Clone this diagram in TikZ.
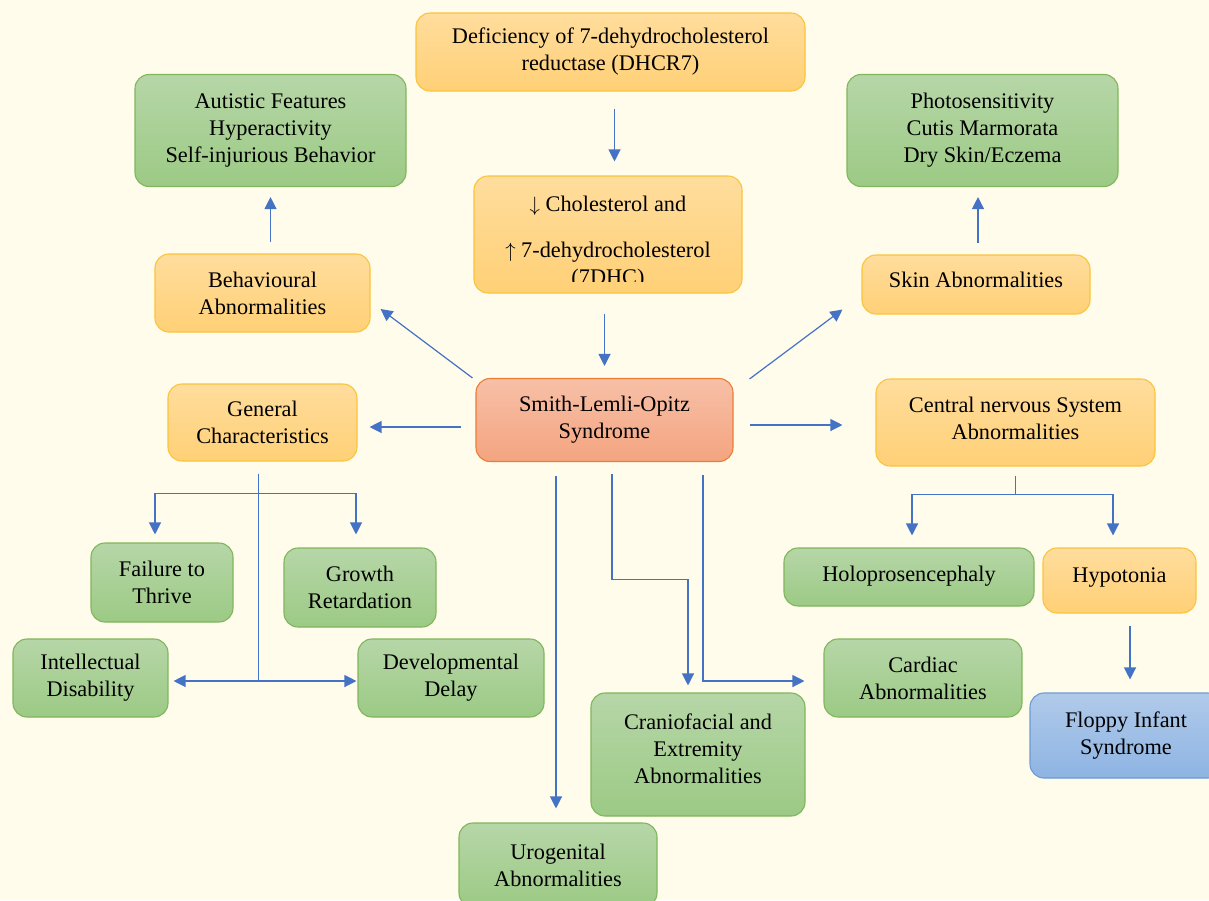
\documentclass[tikz,border=0pt]{standalone}
\usepackage{fontspec}
\setmainfont{Liberation Serif}
\usetikzlibrary{calc,arrows.meta}

\definecolor{bg}{RGB}{255,252,235}
\definecolor{grnT}{RGB}{182,214,167}
\definecolor{grnB}{RGB}{156,202,133}
\definecolor{grnD}{RGB}{128,182,92}
\definecolor{orgT}{RGB}{255,221,157}
\definecolor{orgB}{RGB}{255,208,118}
\definecolor{orgD}{RGB}{250,196,60}
\definecolor{salT}{RGB}{247,192,167}
\definecolor{salB}{RGB}{244,164,128}
\definecolor{salD}{RGB}{236,125,52}
\definecolor{bluT}{RGB}{176,202,234}
\definecolor{bluB}{RGB}{142,180,227}
\definecolor{bluD}{RGB}{108,155,212}
\definecolor{arrc}{RGB}{68,114,196}

\begin{document}
\begin{tikzpicture}[x=1pt,y=-1pt,
  box/.style={rounded corners=14pt, line width=1.1pt, inner sep=0pt,
    align=center, font=\fontsize{22.3}{27}\selectfont},
  gbox/.style={box, draw=grnD, top color=grnT, bottom color=grnB},
  obox/.style={box, draw=orgD, top color=orgT, bottom color=orgB},
  rbox/.style={box, draw=salD, top color=salT, bottom color=salB},
  bbox/.style={box, draw=bluD, top color=bluT, bottom color=bluB},
  sz/.style n args={2}{minimum width=#1pt, minimum height=#2pt},
  ln/.style={draw=arrc, line width=1.2pt},
  arr/.style={ln, -{Triangle[length=12pt,width=12pt]}},
  lbl/.style={inner sep=0pt, align=center, font=\fontsize{22.3}{27}\selectfont},
  txt/.style={inner sep=0pt, anchor=base, font=\fontsize{22.3}{27}\selectfont}
]
\useasboundingbox (0,0) rectangle (1209,900);
\fill[bg] (0,0) rectangle (1209,900);

% top chain
\node[obox, sz={389}{78}] (dhcr) at (610.5,52) {Deficiency of 7-dehydrocholesterol\\reductase (DHCR7)};
\node[obox, sz={268}{117}] (chol) at (608,234.5) {};
\begin{scope}
  \clip (474,176) rectangle (742,281);
  \node[txt] (chol1) at (608,211) {$\downarrow$ Cholesterol and};
  \node[txt] (chol2) at (608,257) {$\uparrow$ 7-dehydrocholesterol};
  \node[txt] (chol3) at (608,284) {(7DHC)};
\end{scope}
\node[rbox, sz={257}{83}] (slo) at (604.5,420) {Smith-Lemli-Opitz\\Syndrome};

% upper side branches
\node[gbox, sz={271}{112}] (aut) at (270.5,130.5) {Autistic Features\\Hyperactivity\\Self-injurious Behavior};
\node[gbox, sz={271}{112}] (photo) at (982.5,130.5) {Photosensitivity\\Cutis Marmorata\\Dry Skin/Eczema};
\node[obox, sz={215}{78}] (beh) at (262.5,293) {Behavioural\\Abnormalities};
\node[obox, sz={228}{59}] (skin) at (976,284.5) {};
\node[lbl] (skinT) at ($(skin.center)+(0,-5)$) {Skin Abnormalities};
\node[obox, sz={189}{77}] (gen) at (262.5,422.5) {General\\Characteristics};
\node[obox, sz={279}{87}] (cns) at (1015.5,422.5) {};
\node[lbl] (cnsT) at ($(cns.center)+(0,-4)$) {Central nervous System\\Abnormalities};

% general characteristics
\node[gbox, sz={142}{79}] (ftt) at (162,582.5) {Failure to\\Thrive};
\node[gbox, sz={152}{79}] (grw) at (360,587.5) {Growth\\Retardation};
\node[gbox, sz={155}{78}] (intel) at (90.5,678) {Intellectual\\Disability};
\node[gbox, sz={186}{78}] (dev) at (451,678) {Developmental\\Delay};

% central nervous system
\node[gbox, sz={250}{58}] (holo) at (909,577) {};
\node[lbl] (holoT) at ($(holo.center)+(0,-1)$) {Holoprosencephaly};
\node[obox, sz={153}{65}] (hypo) at (1119.5,580.5) {};
\node[lbl] (hypoT) at ($(hypo.center)+(0,-3)$) {Hypotonia};
\node[bbox, sz={192}{85}] (flop) at (1126,735.5) {Floppy Infant\\Syndrome};

% lower branches
\node[gbox, sz={198}{78}] (card) at (923,678) {Cardiac\\Abnormalities};
\node[gbox, sz={214}{123}] (cran) at (698,754.5) {};
\node[lbl] (cranT) at ($(cran.center)+(0,-6)$) {Craniofacial and\\Extremity\\Abnormalities};
\node[gbox, sz={198}{84}] (uro) at (558,865) {Urogenital\\Abnormalities};

% connectors: main chain
\draw[arr, shorten <=17pt, shorten >=14pt] ([xshift=4pt]dhcr.south) -- ([xshift=4pt]dhcr.south |- chol.north);
\draw[arr, shorten <=20pt, shorten >=12pt] (chol.south -| slo.north) -- (slo.north);

% connectors: out of the syndrome box
\draw[arr] ($(slo.north west)+(-3,0)$) -- ($(beh.east)+(10,16)$);
\draw[arr] ($(slo.west)+(-14,7)$) -- ($(gen.east)+(12,4.5)$);
\draw[arr] ($(slo.north east)+(16,1)$) -- ($(skin.south west)+(-19,-5)$);
\draw[arr] ($(slo.east)+(16,5)$) -- ($(cns.west)+(-33,2.5)$);
\draw[arr] ($(slo.south)+(-48.5,14)$) -- ($(uro.north)+(-2,-14)$);
\draw[arr] ($(slo.south)+(7.5,12)$) |- ($(cran.north)+(-10,-113)$) -- ($(cran.north)+(-10,-7)$);
\draw[arr] ($(slo.south)+(98.5,13)$) |- ($(card.west)+(-19,3)$);

% connectors: upper branches
\draw[arr, shorten <=11pt, shorten >=10pt] (beh.north -| aut.south) -- (aut.south);
\draw[arr, shorten <=11pt, shorten >=10pt] ([xshift=2pt]skin.north) -- ([xshift=2pt]skin.north |- photo.south);

% connectors: general characteristics
\coordinate (gb) at ($(gen.south)+(-4,12)$);
\coordinate (gh) at ($(gb)+(0,20)$);
\draw[ln] (gb) -- (gh);
\draw[arr] (gh) -| ($(ftt.north)+(-7,-8)$);
\draw[arr] (gh) -| ($(grw.north)+(-4,-13)$);
\draw[arr] (gb) |- ($(intel.east)+(5,3)$);
\draw[arr] (gb) |- ($(dev.west)+(-1,3)$);

% connectors: central nervous system
\coordinate (cb) at ($(cns.south)+(0,28)$);
\draw[ln] ($(cns.south)+(0,9)$) -- (cb);
\draw[arr] (cb) -| ($(holo.north)+(3,-12)$);
\draw[arr] (cb) -| ($(hypo.north)+(-6.5,-12)$);
\draw[arr] ($(flop.north)+(4,-66)$) -- ($(flop.north)+(4,-13)$);
\end{tikzpicture}
\end{document}
